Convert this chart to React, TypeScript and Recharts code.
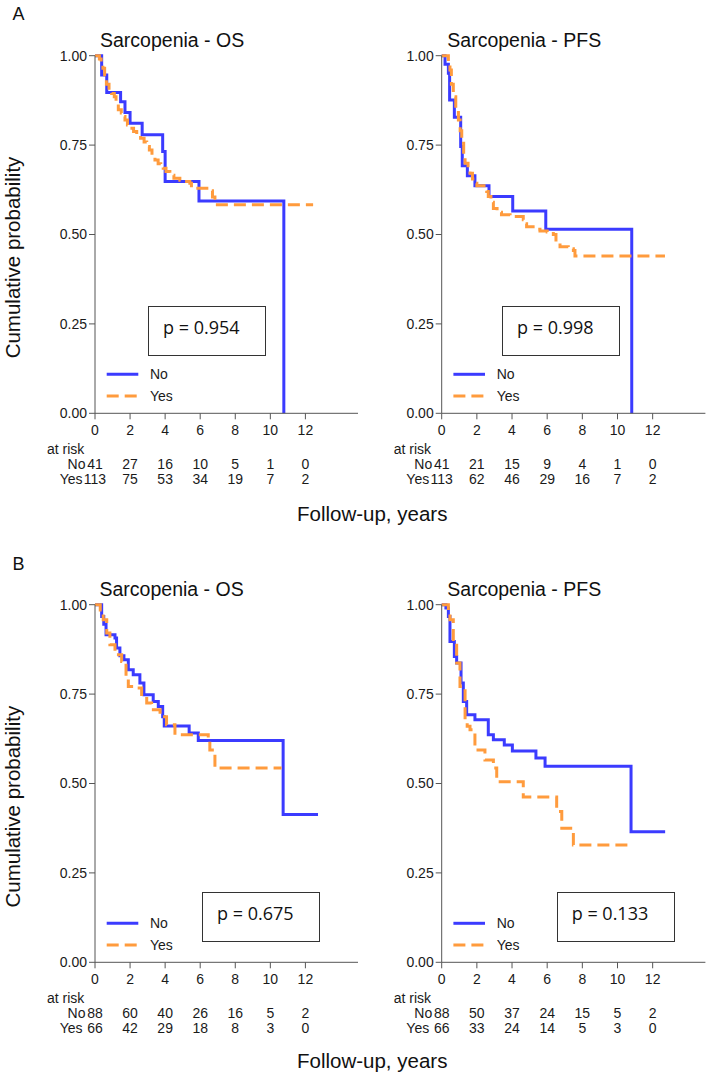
import React from 'react';
import { LineChart, Line, XAxis, YAxis } from 'recharts';

const BLUE = '#3b3bff';
const ORANGE = '#ff9b3d';
const FONT = '"Liberation Sans", Arial, sans-serif';

const timeTicks = [0, 2, 4, 6, 8, 10, 12];
const probTicks = [0, 0.25, 0.5, 0.75, 1];
const seriesNames = ['No', 'Yes'];

// Panel A – OS
const aOsNo = [
  { t: 0, s: 1 }, { t: 0.38, s: 0.946 }, { t: 0.67, s: 0.897 }, { t: 1.46, s: 0.871 },
  { t: 1.71, s: 0.841 }, { t: 2.0, s: 0.811 }, { t: 2.69, s: 0.779 }, { t: 3.86, s: 0.732 },
  { t: 4.0, s: 0.648 }, { t: 5.93, s: 0.594 }, { t: 10.77, s: 0 },
];
const aOsYes = [
  { t: 0, s: 1 }, { t: 0.25, s: 0.991 }, { t: 0.35, s: 0.982 }, { t: 0.45, s: 0.965 },
  { t: 0.55, s: 0.947 }, { t: 0.65, s: 0.92 }, { t: 0.8, s: 0.903 }, { t: 0.95, s: 0.894 },
  { t: 1.1, s: 0.885 }, { t: 1.2, s: 0.867 }, { t: 1.33, s: 0.849 }, { t: 1.5, s: 0.84 },
  { t: 1.6, s: 0.83 }, { t: 1.71, s: 0.82 }, { t: 1.85, s: 0.806 }, { t: 2.0, s: 0.797 },
  { t: 2.2, s: 0.788 }, { t: 2.38, s: 0.778 }, { t: 2.6, s: 0.769 }, { t: 2.8, s: 0.759 },
  { t: 2.95, s: 0.746 }, { t: 3.1, s: 0.736 }, { t: 3.25, s: 0.722 }, { t: 3.42, s: 0.708 },
  { t: 3.6, s: 0.698 }, { t: 3.75, s: 0.69 }, { t: 3.89, s: 0.685 }, { t: 4.05, s: 0.676 },
  { t: 4.27, s: 0.666 }, { t: 4.5, s: 0.657 }, { t: 4.84, s: 0.652 }, { t: 5.1, s: 0.648 },
  { t: 5.41, s: 0.643 }, { t: 5.5, s: 0.629 }, { t: 6.55, s: 0.622 }, { t: 6.7, s: 0.605 },
  { t: 6.84, s: 0.583 }, { t: 12.44, s: 0.583 },
];
const aOsRiskNo = [41, 27, 16, 10, 5, 1, 0];
const aOsRiskYes = [113, 75, 53, 34, 19, 7, 2];

// Panel A – PFS
const aPfsNo = [
  { t: 0, s: 1 }, { t: 0.19, s: 0.976 }, { t: 0.38, s: 0.951 }, { t: 0.45, s: 0.876 },
  { t: 0.72, s: 0.828 }, { t: 1.08, s: 0.746 }, { t: 1.17, s: 0.692 }, { t: 1.46, s: 0.664 },
  { t: 1.89, s: 0.636 }, { t: 2.69, s: 0.606 }, { t: 4.04, s: 0.566 }, { t: 5.92, s: 0.515 },
  { t: 10.81, s: 0 },
];
const aPfsYes = [
  { t: 0, s: 1 }, { t: 0.38, s: 0.982 }, { t: 0.47, s: 0.96 }, { t: 0.55, s: 0.92 },
  { t: 0.66, s: 0.885 }, { t: 0.8, s: 0.85 }, { t: 0.95, s: 0.82 }, { t: 1.05, s: 0.79 },
  { t: 1.14, s: 0.755 }, { t: 1.25, s: 0.72 }, { t: 1.33, s: 0.699 }, { t: 1.5, s: 0.68 },
  { t: 1.61, s: 0.671 }, { t: 1.75, s: 0.655 }, { t: 1.89, s: 0.643 }, { t: 2.0, s: 0.636 },
  { t: 2.56, s: 0.62 }, { t: 2.65, s: 0.606 }, { t: 2.8, s: 0.59 }, { t: 2.94, s: 0.573 },
  { t: 3.15, s: 0.562 }, { t: 3.4, s: 0.555 }, { t: 3.89, s: 0.55 }, { t: 4.64, s: 0.541 },
  { t: 4.75, s: 0.53 }, { t: 4.83, s: 0.522 }, { t: 5.2, s: 0.515 }, { t: 5.59, s: 0.51 },
  { t: 6.0, s: 0.507 }, { t: 6.35, s: 0.5 }, { t: 6.5, s: 0.48 }, { t: 6.73, s: 0.466 },
  { t: 7.2, s: 0.46 }, { t: 7.49, s: 0.455 }, { t: 7.58, s: 0.44 }, { t: 12.7, s: 0.44 },
];
const aPfsRiskNo = [41, 21, 15, 9, 4, 1, 0];
const aPfsRiskYes = [113, 62, 46, 29, 16, 7, 2];

// Panel B – OS
const bOsNo = [
  { t: 0, s: 1 }, { t: 0.38, s: 0.967 }, { t: 0.5, s: 0.945 }, { t: 0.63, s: 0.916 },
  { t: 1.14, s: 0.907 }, { t: 1.23, s: 0.879 }, { t: 1.42, s: 0.857 }, { t: 1.65, s: 0.846 },
  { t: 1.9, s: 0.818 }, { t: 2.18, s: 0.804 }, { t: 2.56, s: 0.781 }, { t: 2.79, s: 0.748 },
  { t: 3.32, s: 0.729 }, { t: 3.61, s: 0.715 }, { t: 3.86, s: 0.687 }, { t: 3.95, s: 0.661 },
  { t: 5.37, s: 0.641 }, { t: 5.89, s: 0.62 }, { t: 10.73, s: 0.413 }, { t: 12.72, s: 0.413 },
];
const bOsYes = [
  { t: 0, s: 1 }, { t: 0.3, s: 0.985 }, { t: 0.47, s: 0.958 }, { t: 0.67, s: 0.921 },
  { t: 0.85, s: 0.888 }, { t: 1.14, s: 0.86 }, { t: 1.52, s: 0.841 }, { t: 1.77, s: 0.8 },
  { t: 1.9, s: 0.771 }, { t: 2.38, s: 0.767 }, { t: 2.66, s: 0.743 }, { t: 2.95, s: 0.725 },
  { t: 3.23, s: 0.706 }, { t: 3.71, s: 0.687 }, { t: 4.08, s: 0.664 }, { t: 4.56, s: 0.636 },
  { t: 6.46, s: 0.622 }, { t: 6.55, s: 0.594 }, { t: 6.84, s: 0.543 }, { t: 10.64, s: 0.543 },
];
const bOsRiskNo = [88, 60, 40, 26, 16, 5, 2];
const bOsRiskYes = [66, 42, 29, 18, 8, 3, 0];

// Panel B – PFS
const bPfsNo = [
  { t: 0, s: 1 }, { t: 0.24, s: 0.991 }, { t: 0.38, s: 0.967 }, { t: 0.47, s: 0.897 },
  { t: 0.72, s: 0.855 }, { t: 0.85, s: 0.837 }, { t: 1.1, s: 0.781 }, { t: 1.23, s: 0.729 },
  { t: 1.42, s: 0.692 }, { t: 1.89, s: 0.678 }, { t: 2.65, s: 0.636 }, { t: 2.94, s: 0.622 },
  { t: 3.56, s: 0.608 }, { t: 4.02, s: 0.591 }, { t: 5.36, s: 0.571 }, { t: 5.88, s: 0.548 },
  { t: 10.77, s: 0.365 }, { t: 12.71, s: 0.365 },
];
const bPfsYes = [
  { t: 0, s: 1 }, { t: 0.38, s: 0.985 }, { t: 0.47, s: 0.958 }, { t: 0.66, s: 0.893 },
  { t: 0.85, s: 0.837 }, { t: 1.04, s: 0.771 }, { t: 1.33, s: 0.678 }, { t: 1.45, s: 0.66 },
  { t: 1.61, s: 0.65 }, { t: 1.89, s: 0.594 }, { t: 2.46, s: 0.566 }, { t: 2.94, s: 0.543 },
  { t: 3.13, s: 0.505 }, { t: 4.64, s: 0.462 }, { t: 6.54, s: 0.422 }, { t: 6.83, s: 0.375 },
  { t: 7.49, s: 0.328 }, { t: 10.62, s: 0.328 },
];
const bPfsRiskNo = [88, 50, 37, 24, 15, 5, 2];
const bPfsRiskYes = [66, 33, 24, 14, 5, 3, 0];

const pValues = ['p = 0.954', 'p = 0.998', 'p = 0.675', 'p = 0.133'];

const RiskTick = (props: any) => {
  const { x, y, payload, riskNo, riskYes } = props;
  const i = timeTicks.indexOf(payload.value);
  const st = { fontFamily: FONT, fontSize: 14, fill: '#1a1a1a' } as any;
  return (
    <g>
      <text x={x} y={y + 10.7} textAnchor="middle" dominantBaseline="central" style={st}>{payload.value}</text>
      {i === 0 && (
        <>
          <text x={x - 48} y={y + 30} textAnchor="start" dominantBaseline="central" style={st}>at risk</text>
          <text x={x - 9.5} y={y + 45} textAnchor="end" dominantBaseline="central" style={st}>{seriesNames[0]}</text>
          <text x={x - 12.5} y={y + 60} textAnchor="end" dominantBaseline="central" style={st}>{seriesNames[1]}</text>
        </>
      )}
      <text x={x} y={y + 45} textAnchor="middle" dominantBaseline="central" style={st}>{riskNo[i]}</text>
      <text x={x} y={y + 60} textAnchor="middle" dominantBaseline="central" style={st}>{riskYes[i]}</text>
    </g>
  );
};

function Panel(p: any) {
  return (
    <div style={{ position: 'absolute', left: p.left, top: p.top }}>
      <LineChart width={p.width} height={500} margin={{ top: 55.7, right: p.mr, bottom: 6.7, left: p.ml }}>
        <XAxis
          type="number"
          dataKey="t"
          domain={[0, 15]}
          ticks={timeTicks}
          interval={0}
          tickSize={6}
          tickMargin={0}
          height={80}
          stroke="#555"
          tick={(tp: any) => <RiskTick {...tp} riskNo={p.riskNo} riskYes={p.riskYes} />}
        />
        <YAxis
          type="number"
          domain={[0, 1]}
          ticks={probTicks}
          interval={0}
          width={45}
          stroke="#555"
          tickFormatter={(v: number) => v.toFixed(2)}
          tick={{ fill: '#1a1a1a', fontSize: 14, fontFamily: FONT }}
        />
        <Line data={p.no} dataKey="s" name={seriesNames[0]} type="stepAfter" stroke={BLUE} strokeWidth={3} dot={false} isAnimationActive={false} />
        <Line data={p.yes} dataKey="s" name={seriesNames[1]} type="stepAfter" stroke={ORANGE} strokeWidth={3} strokeDasharray="12 6" dot={false} isAnimationActive={false} />
      </LineChart>
    </div>
  );
}

const PBox = ({ left, top, text }: any) => (
  <div style={{
    position: 'absolute', left, top, width: 118, height: 50, border: '1.5px solid #333', boxSizing: 'border-box',
    fontFamily: '"Open Sans", sans-serif', fontSize: 18, color: '#111', lineHeight: '22px', paddingLeft: 14, paddingTop: 9,
  }}>{text}</div>
);

const Legend = ({ pl, pb }: any) => (
  <g>
    <line x1={pl + 11.7} x2={pl + 43.3} y1={pb - 39} y2={pb - 39} stroke={BLUE} strokeWidth={3} />
    <line x1={pl + 11.7} x2={pl + 43.3} y1={pb - 17.3} y2={pb - 17.3} stroke={ORANGE} strokeWidth={3} strokeDasharray="12 6" />
    <text x={pl + 55} y={pb - 39} dominantBaseline="central" style={{ fontFamily: FONT, fontSize: 14, fill: '#1a1a1a' }}>{seriesNames[0]}</text>
    <text x={pl + 55} y={pb - 17.3} dominantBaseline="central" style={{ fontFamily: FONT, fontSize: 14, fill: '#1a1a1a' }}>{seriesNames[1]}</text>
  </g>
);

export default function App() {
  const big = { fontFamily: FONT, fill: '#111' } as any;
  return (
    <div style={{ position: 'absolute', left: 0, top: 0, width: 709, height: 1077, background: '#fff', overflow: 'hidden' }}>
      <Panel left={0} top={0} width={360} ml={50} mr={2} no={aOsNo} yes={aOsYes} riskNo={aOsRiskNo} riskYes={aOsRiskYes} />
      <Panel left={360} top={0} width={349} ml={36.7} mr={3.6} no={aPfsNo} yes={aPfsYes} riskNo={aPfsRiskNo} riskYes={aPfsRiskYes} />
      <Panel left={0} top={549} width={360} ml={50} mr={2} no={bOsNo} yes={bOsYes} riskNo={bOsRiskNo} riskYes={bOsRiskYes} />
      <Panel left={360} top={549} width={349} ml={36.7} mr={3.6} no={bPfsNo} yes={bPfsYes} riskNo={bPfsRiskNo} riskYes={bPfsRiskYes} />
      <svg width={709} height={1077} style={{ position: 'absolute', left: 0, top: 0, pointerEvents: 'none' }}>
        <text x={12.5} y={20} style={{ ...big, fontSize: 18 }}>A</text>
        <text x={12.5} y={570} style={{ ...big, fontSize: 18 }}>B</text>
        <text x={100} y={46.7} style={{ ...big, fontSize: 19.5 }}>Sarcopenia - OS</text>
        <text x={447.3} y={46.7} style={{ ...big, fontSize: 19.5 }}>Sarcopenia - PFS</text>
        <text x={99.5} y={596} style={{ ...big, fontSize: 19.5 }}>Sarcopenia - OS</text>
        <text x={447.3} y={596} style={{ ...big, fontSize: 19.5 }}>Sarcopenia - PFS</text>
        <text transform="translate(20,257.5) rotate(-90)" textAnchor="middle" style={{ ...big, fontSize: 20.5 }}>Cumulative probability</text>
        <text transform="translate(20,806.7) rotate(-90)" textAnchor="middle" style={{ ...big, fontSize: 20.5 }}>Cumulative probability</text>
        <text x={297} y={521.4} style={{ ...big, fontSize: 20.5 }}>Follow-up, years</text>
        <text x={297} y={1068} style={{ ...big, fontSize: 20.5 }}>Follow-up, years</text>
        <Legend pl={95} pb={413.3} />
        <Legend pl={441.7} pb={413.3} />
        <Legend pl={95} pb={962.3} />
        <Legend pl={441.7} pb={962.3} />
      </svg>
      <PBox left={148} top={305.7} text={pValues[0]} />
      <PBox left={502} top={305.7} text={pValues[1]} />
      <PBox left={202} top={892} text={pValues[2]} />
      <PBox left={556.7} top={892} text={pValues[3]} />
    </div>
  );
}
